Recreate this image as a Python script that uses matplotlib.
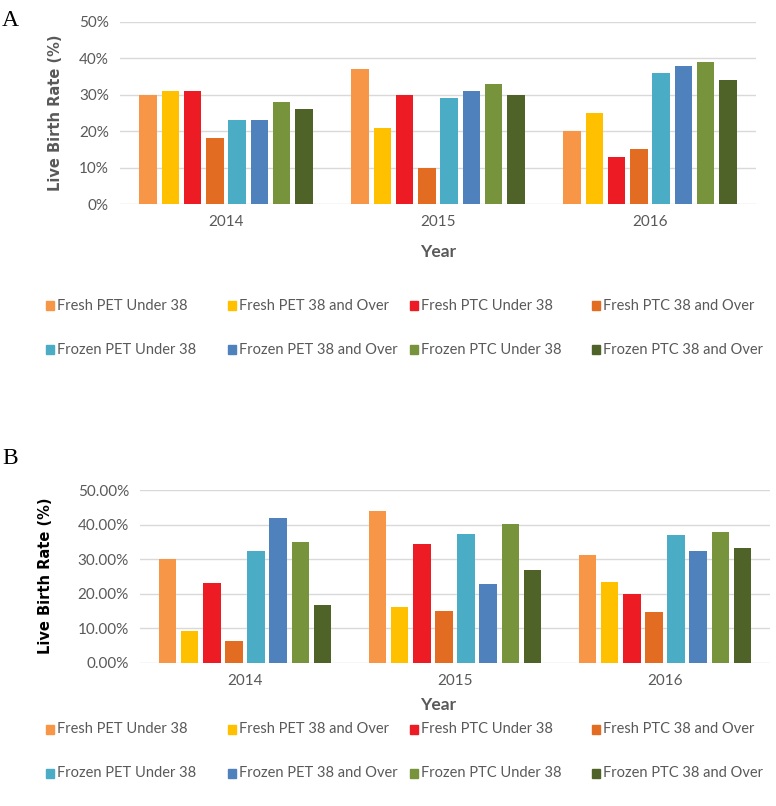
import matplotlib
matplotlib.use("Agg")
import matplotlib.pyplot as plt
import numpy as np

years = ["2014", "2015", "2016"]
series = ["Fresh PET Under 38", "Fresh PET 38 and Over", "Fresh PTC Under 38", "Fresh PTC 38 and Over",
          "Frozen PET Under 38", "Frozen PET 38 and Over", "Frozen PTC Under 38", "Frozen PTC 38 and Over"]
colors = ["#F79646", "#FFC000", "#ED1C24", "#E36C23", "#4BACC6", "#4F81BD", "#77933C", "#4F6228"]

# panel A, rate (%) per series, one value per year
rates_a = [
    [30, 37, 20],
    [31, 21, 25],
    [31, 30, 13],
    [18, 10, 15],
    [23, 29, 36],
    [23, 31, 38],
    [28, 33, 39],
    [26, 30, 34],
]
# panel B
rates_b = [
    [30.0, 43.9, 31.2],
    [9.3, 16.1, 23.4],
    [23.0, 34.5, 19.8],
    [6.4, 15.0, 14.6],
    [32.3, 37.2, 37.0],
    [41.9, 22.9, 32.3],
    [34.9, 40.1, 37.9],
    [16.8, 27.0, 33.2],
]

W, H = 776, 806
fig = plt.figure(figsize=(W / 100, H / 100), dpi=100)
narrow = ["Lato", "DejaVu Sans"]
gray = "#595959"


def px_axes(x0, y0, x1, y1):
    # pixel box (top-left origin) -> figure axes
    return fig.add_axes([x0 / W, 1 - y1 / H, (x1 - x0) / W, (y1 - y0) / H])


def draw_panel(ax, rates, fmt):
    x = np.arange(len(years))
    pitch = 0.105
    width = 0.082
    for i, (vals, c) in enumerate(zip(rates, colors)):
        ax.bar(x + (i - 3.5) * pitch, vals, width=width, color=c, zorder=3, label=series[i])
    ax.set_xlim(-0.5, 2.5)
    ax.set_ylim(0, 50)
    ax.set_yticks(np.arange(0, 51, 10))
    ax.set_yticklabels([fmt.format(v) for v in range(0, 51, 10)], family=narrow, fontsize=11, color=gray)
    ax.set_xticks(x)
    ax.set_xticklabels(years, family=narrow, fontsize=11, color=gray)
    ax.tick_params(length=0, pad=8)
    ax.grid(axis="y", color="#D9D9D9", linewidth=1, zorder=0)
    for s in ax.spines.values():
        s.set_visible(False)


def legend_rows(y_rows):
    xs = [46, 228, 410, 592]
    for k, name in enumerate(series):
        r, cidx = divmod(k, 4)
        yf = 1 - y_rows[r] / H
        fig.patches.append(plt.Rectangle((xs[cidx] / W, yf - 4.5 / H), 8 / W, 9 / H,
                                         transform=fig.transFigure, color=colors[k]))
        fig.text((xs[cidx] + 11) / W, yf, name, family=narrow, fontsize=10.5, color=gray, va="center")


# Panel A
axa = px_axes(120, 22, 756, 204)
draw_panel(axa, rates_a, "{}%")
fig.text(56 / W, 1 - 113 / H, "Live Birth Rate (%)", rotation=90, fontsize=10.5, fontweight="bold",
         color=gray, ha="center", va="center")
fig.text(438 / W, 1 - 252 / H, "Year", family=narrow, fontsize=12.5, fontweight="bold", color=gray,
         ha="center", va="center")
legend_rows([306, 350])
fig.text(2 / W, 1 - 20 / H, "A", family="Liberation Serif", fontsize=17, ha="left", va="center")

# Panel B
axb = px_axes(140, 490, 770, 663)
draw_panel(axb, rates_b, "{:.2f}%")
fig.text(46 / W, 1 - 576 / H, "Live Birth Rate (%)", rotation=90, fontsize=10.5, fontweight="bold",
         color="black", ha="center", va="center")
fig.text(438 / W, 1 - 705 / H, "Year", family=narrow, fontsize=12.5, fontweight="bold", color=gray,
         ha="center", va="center")
legend_rows([729, 773])
fig.text(2 / W, 1 - 458 / H, "B", family="Liberation Serif", fontsize=17, ha="left", va="center")

fig.savefig("out.png", dpi=100)
